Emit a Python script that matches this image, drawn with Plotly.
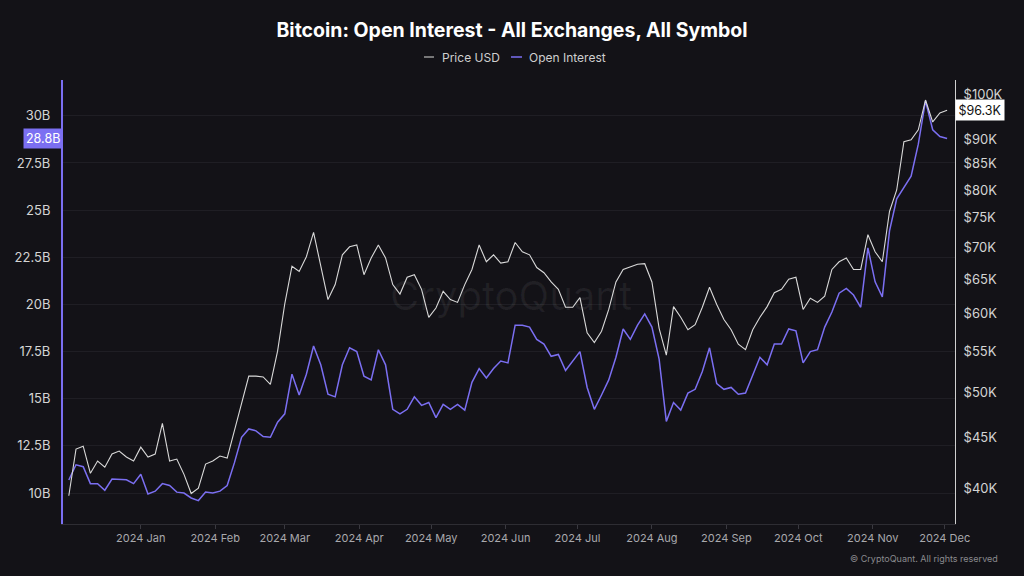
import pandas as pd
import plotly.graph_objects as go
import math

# ---- data (3-day samples) ----
dates = pd.date_range("2023-12-02", periods=123, freq="3D")

price_k = [
    39.3, 43.8, 44.1, 41.4, 42.6, 42.0, 43.3, 43.6, 43.0, 42.6,
    44.0, 43.0, 43.3, 46.5, 42.6, 42.8, 41.3, 39.5, 40.0, 42.3,
    42.6, 43.1, 42.9, 45.7, 48.9, 51.9, 51.9, 51.8, 50.9, 55.0,
    61.4, 67.0, 66.2, 68.5, 72.5, 67.3, 62.0, 64.2, 68.8, 70.1,
    70.4, 65.7, 68.3, 70.4, 68.3, 64.2, 62.8, 65.3, 65.7, 63.5,
    59.5, 60.8, 63.2, 62.0, 61.6, 64.2, 66.5, 70.4, 67.7, 68.8,
    67.5, 67.7, 70.8, 69.3, 68.8, 66.8, 66.0, 64.6, 63.5, 60.9,
    60.9, 62.3, 57.4, 56.1, 57.6, 60.6, 64.6, 66.5, 66.9, 67.3,
    67.4, 64.6, 58.0, 54.5, 61.0, 59.5, 57.8, 58.5, 60.9, 63.8,
    61.3, 59.2, 57.8, 55.9, 55.2, 57.8, 59.5, 61.0, 63.0, 63.5,
    65.0, 65.3, 60.6, 62.2, 61.6, 62.5, 66.5, 67.7, 68.3, 66.5,
    66.5, 72.1, 69.3, 67.7, 76.1, 80.0, 89.5, 89.9, 92.0, 98.6,
    93.7, 95.7, 96.3,
]

oi_b = [
    10.69, 11.5, 11.4, 10.5, 10.5, 10.15, 10.74, 10.7, 10.7, 10.5,
    11.0, 9.95, 10.1, 10.5, 10.4, 10.05, 10.0, 9.74, 9.6, 10.05,
    10.0, 10.1, 10.4, 11.6, 12.96, 13.4, 13.3, 13.0, 12.96, 13.76,
    14.2, 16.3, 15.2, 16.3, 17.8, 16.8, 15.24, 15.1, 16.8, 17.7,
    17.5, 16.2, 16.0, 17.6, 16.8, 14.44, 14.2, 14.44, 15.1, 14.65,
    14.8, 14.0, 14.7, 14.44, 14.7, 14.4, 15.87, 16.6, 16.1, 16.6,
    17.0, 16.9, 18.9, 18.9, 18.8, 18.15, 17.9, 17.25, 17.35, 16.5,
    17.0, 17.5, 15.6, 14.44, 15.2, 16.0, 17.2, 18.7, 18.15, 18.9,
    19.5, 18.8, 17.1, 13.8, 14.8, 14.4, 15.3, 15.5, 16.45, 17.7,
    15.8, 15.5, 15.6, 15.24, 15.3, 16.2, 17.2, 16.8, 17.9, 17.9,
    18.7, 18.6, 16.9, 17.5, 17.6, 18.8, 19.6, 20.6, 20.85, 20.5,
    19.85, 23.0, 21.2, 20.4, 23.9, 25.6, 26.2, 26.8, 28.5, 30.8,
    29.26, 28.9, 28.8,
]

oi_ticks = [10, 12.5, 15, 17.5, 20, 22.5, 25, 27.5, 30]
oi_tick_text = ["10B", "12.5B", "15B", "17.5B", "20B", "22.5B", "25B", "27.5B", "30B"]
price_ticks = [40, 45, 50, 55, 60, 65, 70, 75, 80, 85, 90, 100]
price_tick_text = ["$40K", "$45K", "$50K", "$55K", "$60K", "$65K", "$70K", "$75K",
                   "$80K", "$85K", "$90K", "$100K"]
month_ticks = pd.date_range("2024-01-01", "2024-12-01", freq="MS")
month_text = [d.strftime("%Y %b") for d in month_ticks]

BG = "#131217"
PURPLE = "#7b6ff2"
WHITE_LINE = "#d9d9d9"
FONT = "Inter, Roboto, sans-serif"

fig = go.Figure()
fig.add_trace(go.Scatter(x=dates, y=price_k, name="Price USD", yaxis="y2",
                         mode="lines", line=dict(color=WHITE_LINE, width=1.1)))
fig.add_trace(go.Scatter(x=dates, y=oi_b, name="Open Interest", yaxis="y",
                         mode="lines", line=dict(color=PURPLE, width=1.5)))

fig.update_layout(
    width=1024, height=576,
    paper_bgcolor=BG, plot_bgcolor=BG,
    margin=dict(l=63, r=69, t=80, b=52),
    showlegend=False,
    font=dict(family=FONT, color="#cfcfcf", size=12),
    title=dict(text="<b>Bitcoin: Open Interest - All Exchanges, All Symbol</b>",
               x=0.5, xanchor="center", y=0.948, yanchor="middle",
               font=dict(family=FONT, size=19.5, color="#ffffff")),
    xaxis=dict(
        type="date",
        range=["2023-11-29 14:00", "2024-12-05 07:00"],
        tickvals=month_ticks, ticktext=month_text,
        showgrid=False, zeroline=False,
        showline=True, linecolor="#2e2d33", linewidth=1,
        ticks="outside", ticklen=4, tickcolor="#3a3940",
        tickfont=dict(size=11, color="#a9a9ad"),
    ),
    yaxis=dict(
        range=[8.36, 31.9],
        tickvals=oi_ticks, ticktext=oi_tick_text,
        showgrid=True, gridcolor="#1f1e24", gridwidth=1,
        zeroline=False,
        showline=True, linecolor=PURPLE, linewidth=2,
        ticks="", ticklabelstandoff=8,
        tickfont=dict(size=13, color="#d4d4d4"),
    ),
    yaxis2=dict(
        type="log", overlaying="y", side="right",
        range=[math.log10(36.8), math.log10(103.3)],
        tickvals=price_ticks, ticktext=price_tick_text,
        showgrid=False, zeroline=False,
        showline=True, linecolor="#d0d0d0", linewidth=1,
        ticks="", ticklabelstandoff=5,
        tickfont=dict(size=13, color="#d4d4d4"),
    ),
)

# legend (custom, short dashes drawn as shapes)
LEG_Y = 1.0518
fig.add_shape(type="line", xref="paper", yref="paper", x0=0.4047, x1=0.4159,
              y0=LEG_Y, y1=LEG_Y, line=dict(color="#9a9a9a", width=1.5))
fig.add_shape(type="line", xref="paper", yref="paper", x0=0.5022, x1=0.5146,
              y0=LEG_Y, y1=LEG_Y, line=dict(color=PURPLE, width=1.5))
fig.add_annotation(xref="paper", yref="paper", x=0.4226, y=LEG_Y, xanchor="left",
                   yanchor="middle", showarrow=False, text="Price USD",
                   font=dict(family=FONT, size=12, color="#cfcfcf"))
fig.add_annotation(xref="paper", yref="paper", x=0.5202, y=LEG_Y, xanchor="left",
                   yanchor="middle", showarrow=False, text="Open Interest",
                   font=dict(family=FONT, size=12, color="#cfcfcf"))

# watermark
fig.add_annotation(
    xref="paper", yref="paper", x=0.502, y=0.515, showarrow=False,
    text="CryptoQuant", font=dict(family=FONT, size=40, color="rgba(255,255,255,0.06)"),
)

# last value labels
fig.add_annotation(
    xref="paper", yref="y", x=0, y=oi_b[-1], xanchor="right", yanchor="middle",
    showarrow=False, text="%.1fB" % oi_b[-1], bgcolor=PURPLE,
    font=dict(family=FONT, size=12.5, color="#ffffff"), borderpad=2,
)
fig.add_annotation(
    xref="paper", yref="y2", x=1, y=math.log10(price_k[-1]), xanchor="left", yanchor="middle",
    showarrow=False, text="$%.1fK" % price_k[-1], bgcolor="#ffffff",
    font=dict(family=FONT, size=12.5, color="#111111"), borderpad=2.5,
)

# copyright
fig.add_annotation(
    xref="paper", yref="paper", x=1.05, y=-0.078, xanchor="right", yanchor="middle",
    showarrow=False, text="© CryptoQuant. All rights reserved",
    font=dict(family=FONT, size=9, color="#8a8a8e"),
)

fig.write_html("out.html", config={"displayModeBar": False},
               post_script="document.body.style.margin='0';")
